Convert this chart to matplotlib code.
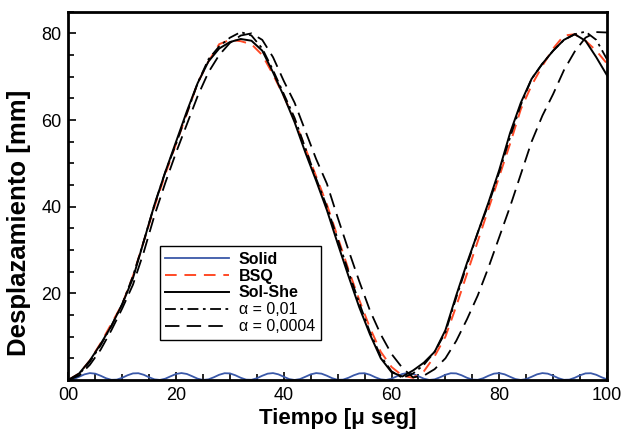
import numpy as np
import matplotlib
matplotlib.use("Agg")
import matplotlib.pyplot as plt
from matplotlib.ticker import MultipleLocator

plt.rcParams['font.family'] = ['Liberation Sans', 'DejaVu Sans']

# time grid for the four main curves [micro s]
t = np.arange(0, 101, 2)

sol_she = [0, 1.5, 4.5, 8.3, 12.5, 17.5, 23.5, 32, 40.5, 48,
           55, 62, 68.5, 73.5, 76.5, 78, 78.7, 78.3, 76, 71,
           65.5, 59.5, 52.5, 46, 39.2, 31.5, 24, 16.8, 10.5, 5,
           1.8, 0.8, 2.2, 4, 6.5, 11.5, 19.5, 27, 34, 41,
           48.5, 57, 64, 69.5, 73, 76, 78.5, 79.8, 78.3, 74.5,
           70.3]

bsq = [0, 1.5, 4.5, 8.5, 13, 17.5, 24, 32, 40, 47.5,
       54.5, 61.5, 68.5, 73.5, 77.5, 78.5, 78.2, 77.5, 75, 70.5,
       65.5, 60, 53.5, 47, 40.5, 33, 25.5, 18.5, 12, 6.5,
       3, 1, 0.5, 2, 5.5, 10, 17, 24.5, 32, 39.5,
       47, 54.5, 62.5, 68, 72.5, 76.5, 79.5, 79.8, 78.3, 76,
       73]

alpha_001 = [0, 1.3, 4.2, 8, 12.5, 17.5, 24, 32, 40.5, 48,
             54.5, 61.5, 68.5, 74, 77, 79, 80.3, 79.5, 76.5, 71.5,
             66, 60.5, 53.5, 46.5, 40, 32.5, 25, 17.8, 11, 5.5,
             2, 0.5, 1.5, 3.5, 6.5, 11, 19, 26.5, 34, 40.5,
             48, 56, 63.5, 69.5, 73, 76, 78.5, 79.8, 80.4, 78.5,
             74]

alpha_00004 = [0, 1, 3.5, 7, 11.5, 16.5, 22, 29.5, 38, 45.5,
               52.5, 59, 65.5, 71, 75, 77.8, 79.5, 80, 78.5, 74.5,
               69, 64, 57.5, 51, 45.3, 37.5, 30, 22.8, 16, 10.5,
               6, 2.8, 0.6, 1, 2.5, 5, 9, 14, 19.5, 26,
               33, 40, 47.5, 55, 61, 66, 71.5, 75.8, 79, 80.3,
               80.2]

# solid model: small oscillation near zero, 1 micro s grid
t_solid = np.arange(0, 101, 1)
solid = [0, 0.21, 0.74, 1.30, 1.59, 1.46, 0.98, 0.40, 0.04, 0.08,
         0.51, 1.09, 1.52, 1.56, 1.20, 0.62, 0.14, 0.01, 0.30, 0.86,
         1.39, 1.60, 1.39, 0.86, 0.30, 0.01, 0.14, 0.62, 1.20, 1.56,
         1.52, 1.09, 0.51, 0.08, 0.04, 0.40, 0.98, 1.46, 1.59, 1.30,
         0.74, 0.21, 0, 0.21, 0.74, 1.30, 1.59, 1.46, 0.98, 0.40,
         0.04, 0.08, 0.51, 1.09, 1.52, 1.56, 1.20, 0.62, 0.14, 0.01,
         0.30, 0.86, 1.39, 1.60, 1.39, 0.86, 0.30, 0.01, 0.14, 0.62,
         1.20, 1.56, 1.52, 1.09, 0.51, 0.08, 0.04, 0.40, 0.98, 1.46,
         1.59, 1.30, 0.74, 0.21, 0, 0.21, 0.74, 1.30, 1.59, 1.46,
         0.98, 0.40, 0.04, 0.08, 0.51, 1.09, 1.52, 1.56, 1.20, 0.62,
         0.14]

xticks = [0, 20, 40, 60, 80, 100]
xticklabels = ["00", "20", "40", "60", "80", "100"]
yticks = [20, 40, 60, 80]

fig = plt.figure(figsize=(6.24, 4.4), dpi=100)
ax = fig.add_axes([0.1095, 0.1364, 0.8633, 0.837])

ax.plot(t_solid, solid, color="#3a58a8", lw=1.3, label="Solid")
ax.plot(t, bsq, color="#ff4a26", lw=1.4, dashes=(6, 4), label="BSQ")
ax.plot(t, sol_she, color="black", lw=1.4, label="Sol-She")
ax.plot(t, alpha_001, color="black", lw=1.3, dashes=(6, 2.5, 1.5, 2.5),
        label="α = 0,01")
ax.plot(t, alpha_00004, color="black", lw=1.3, dashes=(8, 4),
        label="α = 0,0004")

ax.set_xlim(0, 100)
ax.set_ylim(0, 85)
ax.set_xticks(xticks)
ax.set_xticklabels(xticklabels)
ax.set_yticks(yticks)
ax.xaxis.set_minor_locator(MultipleLocator(5))
ax.yaxis.set_minor_locator(MultipleLocator(5))
ax.tick_params(which="both", direction="in", top=False, right=False,
               labelsize=13, width=1.2)
ax.tick_params(axis="x", which="major", pad=5)
ax.tick_params(axis="y", which="major", pad=5)
ax.tick_params(which="major", length=6)
ax.tick_params(which="minor", length=4)
for s in ax.spines.values():
    s.set_linewidth(2)

ax.set_xlabel("Tiempo [μ seg]", fontsize=16, fontweight="bold")
ax.set_ylabel("Desplazamiento [mm]", fontsize=18.5, fontweight="bold")
ax.xaxis.set_label_coords(0.5, -0.075)
ax.yaxis.set_label_coords(-0.07, 0.427)

leg = ax.legend(loc="lower left", bbox_to_anchor=(0.17, 0.109), fontsize=11.5,
                handlelength=4.0, handletextpad=0.6, fancybox=False,
                framealpha=1, edgecolor="black", borderpad=0.35,
                labelspacing=0.12, borderaxespad=0)
leg.get_frame().set_linewidth(1.0)
for txt in leg.get_texts()[:3]:
    txt.set_fontweight("bold")

fig.savefig("out.png", dpi=100)
